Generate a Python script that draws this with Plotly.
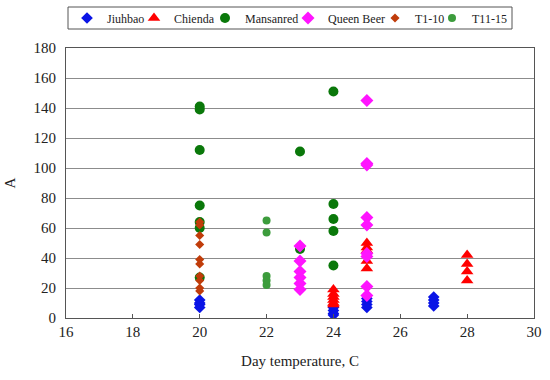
import plotly.graph_objects as go

# Day temperature (C) and A values per series
jiuhbao_x = [20, 20, 20, 20, 24, 24, 24, 24, 25, 25, 25, 25, 27, 27, 27, 27]
jiuhbao_y = [12, 10, 9, 7, 7, 5, 3, 2, 13, 11, 9, 7, 14, 12, 10, 8]

chienda_x = [24, 24, 24, 24, 24, 24, 25, 25, 25, 25, 25, 28, 28, 28, 28]
chienda_y = [19, 16, 14, 12, 10, 9, 50, 47, 45, 38, 33, 42, 36, 31, 25]

mansanred_x = [20, 20, 20, 20, 20, 20, 20, 23, 23, 24, 24, 24, 24, 24]
mansanred_y = [141, 139, 112, 75, 64, 60, 27, 111, 46, 151, 76, 66, 58, 35]

queen_x = [23, 23, 23, 23, 23, 23, 25, 25, 25, 25, 25, 25, 25, 25, 25]
queen_y = [48, 38, 31, 27, 23, 19, 145, 103, 102, 67, 62, 43, 41, 21, 15]

t1_10_x = [20, 20, 20, 20, 20, 20, 20, 20, 20, 20]
t1_10_y = [64, 62, 55, 49, 39, 36, 28, 25, 20, 18]

t11_15_x = [22, 22, 22, 22, 22]
t11_15_y = [65, 57, 28, 25, 22]

x_ticks = [16, 18, 20, 22, 24, 26, 28, 30]
y_ticks = [0, 20, 40, 60, 80, 100, 120, 140, 160, 180]

FONT = "'Liberation Serif', 'DejaVu Serif', 'Times New Roman', serif"
W, H = 550, 380

# legend entry anchor (px from left of page) for each series
legend_px = [67, 134, 205, 288, 375, 432]

fig = go.Figure()
series = [
    ("Jiuhbao", jiuhbao_x, jiuhbao_y, "diamond", 9, "#0a14e6"),
    ("Chienda", chienda_x, chienda_y, "triangle-up", 11, "#ff0000"),
    ("Mansanred", mansanred_x, mansanred_y, "circle", 10, "#0a780a"),
    ("Queen Beer", queen_x, queen_y, "diamond", 10, "#ff14ff"),
    ("T1-10", t1_10_x, t1_10_y, "diamond", 7, "#c03c0a"),
    ("T11-15", t11_15_x, t11_15_y, "circle", 8, "#3c9c3c"),
]
legend_layout = {}
for i, (name, xs, ys, sym, size, col) in enumerate(series):
    lid = "legend" if i == 0 else f"legend{i + 1}"
    fig.add_trace(go.Scatter(
        x=xs, y=ys, mode="markers", name=name, legend=lid,
        marker=dict(symbol=sym, size=size, color=col, line=dict(width=0)),
    ))
    legend_layout[lid] = dict(
        orientation="h", x=legend_px[i] / W, xanchor="left",
        y=1 - 18 / H, yanchor="middle", xref="container", yref="container",
        borderwidth=0, bgcolor="rgba(0,0,0,0)", itemwidth=30,
        font=dict(family=FONT, size=12, color="#222222"),
    )

fig.update_layout(
    width=W, height=H,
    margin=dict(l=66, r=16, t=48, b=62, autoexpand=False),
    paper_bgcolor="white", plot_bgcolor="white",
    font=dict(family=FONT, size=15, color="#222222"),
    showlegend=True,
    **legend_layout,
    xaxis=dict(
        range=[16, 30], tickvals=x_ticks, ticks="inside", ticklen=4,
        tickcolor="#555555", showgrid=False, zeroline=False,
        showline=True, linecolor="#555555", linewidth=1, mirror=True,
        title=dict(text="Day temperature, C", standoff=16,
                   font=dict(family=FONT, size=15)),
    ),
    yaxis=dict(
        range=[0, 180], tickvals=y_ticks, ticks="", showgrid=True,
        gridcolor="#8c8c8c", gridwidth=1, zeroline=False,
        showline=True, linecolor="#555555", linewidth=1, mirror=True,
        ticklabelstandoff=6,
        title=dict(text="A", standoff=14, font=dict(family=FONT, size=15)),
    ),
)

# legend frame
pw = W - 66 - 16
ph = H - 48 - 62
fig.add_shape(
    type="rect", xref="paper", yref="paper",
    x0=(68 - 66) / pw, x1=(512 - 66) / pw,
    y0=1 + (48 - 29) / ph, y1=1 + (48 - 7) / ph,
    line=dict(color="#555555", width=1), fillcolor="rgba(0,0,0,0)",
    layer="below",
)

fig.write_html("out.html", config={"displayModeBar": False},
               post_script="document.body.style.margin='0';")
